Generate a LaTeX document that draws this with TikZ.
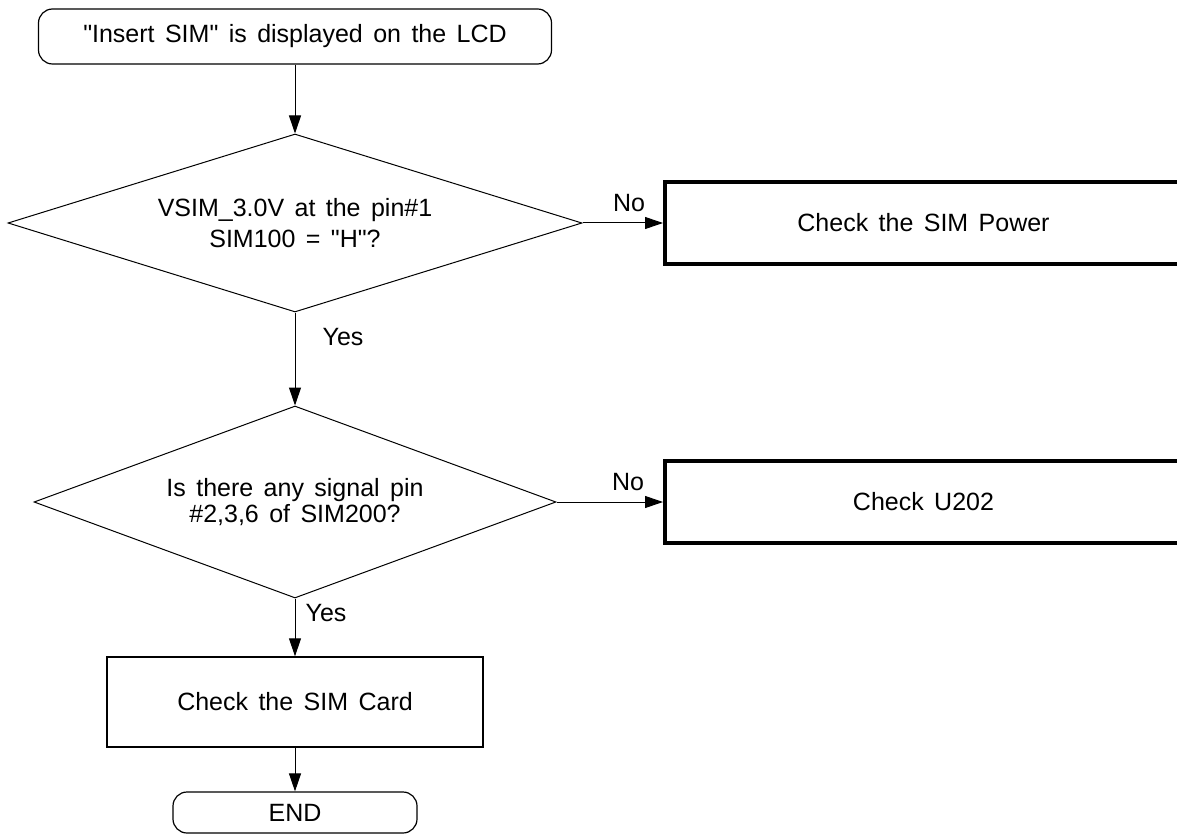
\documentclass[tikz,border=0pt]{standalone}
\usepackage{fontspec}
\setmainfont{Liberation Sans}[WordSpace=1.5, Ligatures=TeXOff]
\usetikzlibrary{shapes.geometric,arrows.meta}
\begin{document}
\begin{tikzpicture}[x=0.5pt,y=-0.5pt,
  font=\fontsize{12.5}{14}\selectfont,
  term/.style={draw, rounded corners=7pt, line width=0.6pt, inner sep=0pt},
  dec/.style={draw, diamond, aspect=3.2, line width=0.5pt, inner sep=0pt, align=center},
  thickbox/.style={draw, line width=2pt, inner sep=0pt, minimum width=258.5pt, minimum height=41pt},
  procbox/.style={draw, line width=0.7pt, inner sep=0pt},
  arr/.style={-{Triangle[length=9pt,width=6pt]}, line width=0.5pt},
  lbl/.style={inner sep=0pt}]
\clip (0,0) rectangle (1177,834);
\node[term, minimum width=256.5pt, minimum height=27.5pt] (start) at (295,36.5) {"Insert SIM" is displayed on the LCD};
\node[dec, minimum width=287pt, minimum height=89pt] (d1) at (295,223) {VSIM\_3.0V at the pin\#1\\[1.5pt]SIM100 = "H"?};
\node[thickbox] (p1) at (923.5,223) {Check the SIM Power};
\node[dec, minimum width=261pt, minimum height=96pt, font=\fontsize{12.5}{10.5}\selectfont] (d2) at (295,502) {Is there any signal pin\\\#2,3,6 of SIM200?};
\node[thickbox] (p2) at (923.5,502) {Check U202};
\node[procbox, minimum width=188pt, minimum height=45pt] (p3) at (295,702) {Check the SIM Card};
\node[term, minimum width=122pt, minimum height=20.5pt] (end) at (295,812.5) {END};
\node[lbl] (no1) at (629,203) {No};
\node[lbl] (no2) at (628,482) {No};
\node[lbl] (yes1) at (343,337) {Yes};
\node[lbl] (yes2) at (326,613) {Yes};
\draw[arr] (start.south) -- (d1.north);
\draw[arr] (d1.east) -- (p1.west);
\draw[arr] (d1.south) -- (d2.north);
\draw[arr] (d2.east) -- (p2.west);
\draw[arr] (d2.south) -- (p3.north);
\draw[arr] (p3.south) -- (end.north);
\end{tikzpicture}
\end{document}
